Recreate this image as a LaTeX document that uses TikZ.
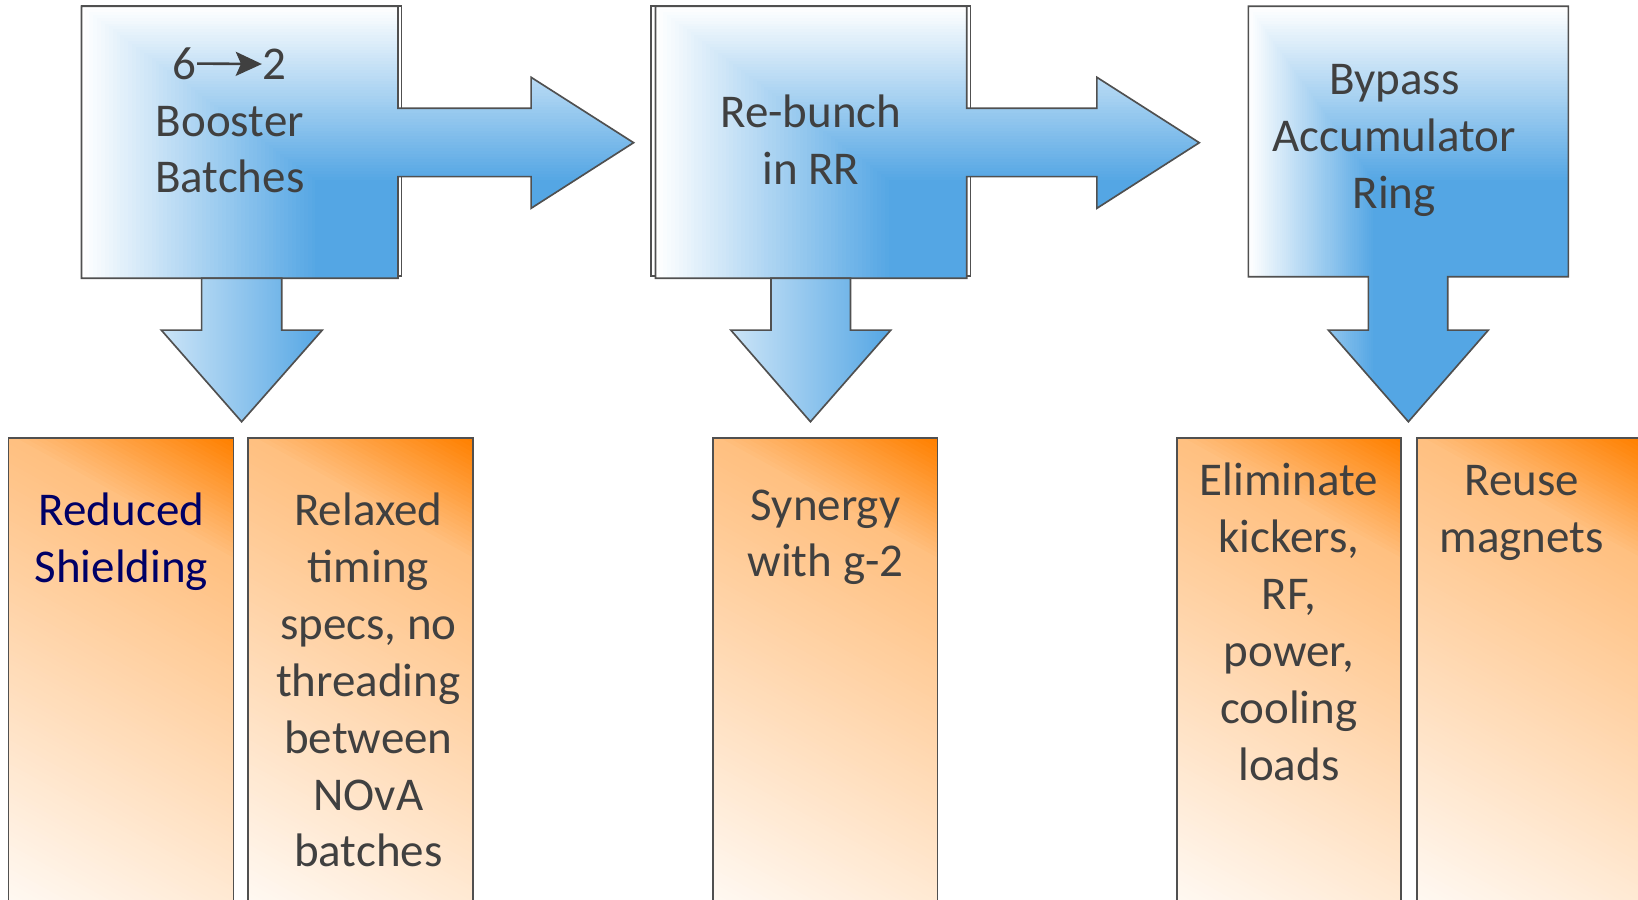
\documentclass[tikz,border=0pt]{standalone}
\usepackage{fontspec}
\setmainfont{Carlito}
\usetikzlibrary{arrows.meta}

\definecolor{skyblue}{RGB}{84,166,228}
\definecolor{tangerine}{RGB}{255,128,0}
\definecolor{edge}{RGB}{80,80,80}
\definecolor{ink}{RGB}{64,64,64}
\definecolor{navy}{RGB}{0,0,102}

% use the font's own word space inside centred labels
\newcommand{\natspace}{\spaceskip=\fontdimen2\font\relax}

% corner gradient: white along the left/top edges (#1,#2), full blue from (#3,#4) on
\newcommand{\blueramp}[4]{%
  \foreach \k in {0,...,60}{%
    \pgfmathsetmacro\pp{100*\k/60}%
    \pgfmathsetmacro\xa{#1+(#3-#1)*\k/60}%
    \pgfmathsetmacro\ya{#2+(#4-#2)*\k/60}%
    \fill[skyblue!\pp!white] (\xa,\ya) rectangle (1600,430);
  }}

% diagonal fade from the top right corner (#1,#2) towards the bottom left:
% each band covers everything at distance >= \dd along the fade direction
\newcommand{\orangeramp}[2]{%
  \foreach \k in {0,...,132}{%
    \pgfmathsetmacro\dd{4*\k}%
    \pgfmathsetmacro\tone{((\dd<100) ? (100-0.5*\dd) : ((\dd<300) ? (50-0.115*(\dd-100)) : (max(3,27-0.1158*(\dd-300)))))}%
    \fill[tangerine!\tone!white]
      ({#1-0.483*\dd+350.4},{#2+0.876*\dd+193.2}) --
      ({#1-0.483*\dd-350.4},{#2+0.876*\dd-193.2}) --
      ({#1-0.483*700-350.4},{#2+0.876*700-193.2}) --
      ({#1-0.483*700+350.4},{#2+0.876*700+193.2}) -- cycle;
  }}

% one orange column: name, left x, right x
\newcommand{\ocolumn}[3]{%
  \begin{scope}
    \clip (#2,419.6) rectangle (#3,905);
    \orangeramp{#3}{419.6}
  \end{scope}
  \node[obox, minimum width={(#3-#2)*0.5pt}] (#1) at ({(#2+#3)/2},662.3) {};
}

\tikzset{
  outline/.style={draw=edge, line width=0.8pt},
  obox/.style={outline, rectangle, inner sep=0pt, minimum height=242.7pt},
  lbl/.style={font=\fontsize{22.5}{27.2}\selectfont, text=ink, align=center,
              text width=150pt, inner sep=0pt, anchor=base},
  digit/.style={font=\fontsize{22.5}{27.2}\selectfont, text=ink, inner sep=0pt, anchor=base},
  downshade/.style={outline, left color=skyblue!30!white, right color=skyblue},
}

\begin{document}
\begin{tikzpicture}[x=0.5pt, y=-0.5pt]
\useasboundingbox (0,0) rectangle (1568,861);

% ---------- stage 1: 6 -> 2 Booster batches ----------
\draw[outline, fill=white] (78,6) rectangle (384.3,264.5);
\begin{scope}
  \clip (78,6) -- (381,6) -- (381,103.7) -- (508.4,103.7) -- (508.4,74) -- (606.5,136.6)
        -- (508.4,199.4) -- (508.4,169.1) -- (381,169.1) -- (381,266.4) -- (78,266.4) -- cycle;
  \blueramp{78}{6}{302}{172}
\end{scope}
\draw[outline] (78,6) -- (381,6) -- (381,103.7) -- (508.4,103.7) -- (508.4,74) -- (606.5,136.6)
        -- (508.4,199.4) -- (508.4,169.1) -- (381,169.1) -- (381,266.4) -- (78,266.4) -- cycle;
\shadedraw[downshade] (193,266.4) -- (269.7,266.4) -- (269.7,316) -- (308.5,316)
        -- (231.3,403.7) -- (154.4,316) -- (193,316) -- cycle;

% ---------- stage 2: re-bunch in RR ----------
\draw[outline, fill=white] (623,6) rectangle (929,264.5);
\begin{scope}
  \clip (627.5,6) -- (925.5,6) -- (925.5,103.7) -- (1050,103.7) -- (1050,74) -- (1148,136.6)
        -- (1050,199.4) -- (1050,169.1) -- (925.5,169.1) -- (925.5,266.4) -- (627.5,266.4) -- cycle;
  \blueramp{627.5}{6}{851}{172}
\end{scope}
\draw[outline] (627.5,6) -- (925.5,6) -- (925.5,103.7) -- (1050,103.7) -- (1050,74) -- (1148,136.6)
        -- (1050,199.4) -- (1050,169.1) -- (925.5,169.1) -- (925.5,266.4) -- (627.5,266.4) -- cycle;
\shadedraw[downshade] (738,266.4) -- (814.2,266.4) -- (814.2,316) -- (852.7,316)
        -- (775.8,403.7) -- (699.6,316) -- (738,316) -- cycle;

% ---------- stage 3: bypass accumulator ring ----------
\begin{scope}
  \clip (1195,6) -- (1501.3,6) -- (1501.3,265) -- (1385.8,265) -- (1385.8,316) -- (1424.7,316)
        -- (1348.2,403.7) -- (1271.6,316) -- (1309.9,316) -- (1309.9,265) -- (1195,265) -- cycle;
  \blueramp{1195}{6}{1314.5}{172}
\end{scope}
\draw[outline] (1195,6) -- (1501.3,6) -- (1501.3,265) -- (1385.8,265) -- (1385.8,316) -- (1424.7,316)
        -- (1348.2,403.7) -- (1271.6,316) -- (1309.9,316) -- (1309.9,265) -- (1195,265) -- cycle;

% ---------- benefit columns ----------
\ocolumn{o1}{8}{223.4}
\ocolumn{o2}{237.7}{453.1}
\ocolumn{o3}{682.3}{897.3}
\ocolumn{o4}{1126.5}{1341.2}
\ocolumn{o5}{1356.2}{1571}

% ---------- labels ----------
\node[digit] (six) at (177,75.9) {6};
\node[digit] (two) at (262.5,75.9) {2};
\draw[ink, line width=1.25pt, -{Stealth[length=12.5pt, width=11.5pt, inset=2.5pt]}] (six.east) -- (two.west);
\node[lbl] (tb1) at (220,130.2) {Booster\\Batches};
\node[lbl] (tb2) at (776.3,122.2) {\natspace Re-bunch\\in RR};
\node[lbl] (tb3) at (1334.6,90.9) {Bypass\\Accumulator\\Ring};

\node[lbl, text=navy] (to1) at (116.2,503.5) {Reduced\\Shielding};
\node[lbl] (to2) at (352.6,503.5) {\natspace Relaxed\\timing\\specs, no\\threading\\between\\NOvA\\batches};
\node[lbl] (to3) at (790.2,497.8) {\natspace Synergy\\with g-2};
\node[lbl] (to4) at (1233.8,474.8) {Eliminate\\kickers,\\RF,\\power,\\cooling\\loads};
\node[lbl] (to5) at (1456.7,474.8) {Reuse\\magnets};
\end{tikzpicture}
\end{document}
